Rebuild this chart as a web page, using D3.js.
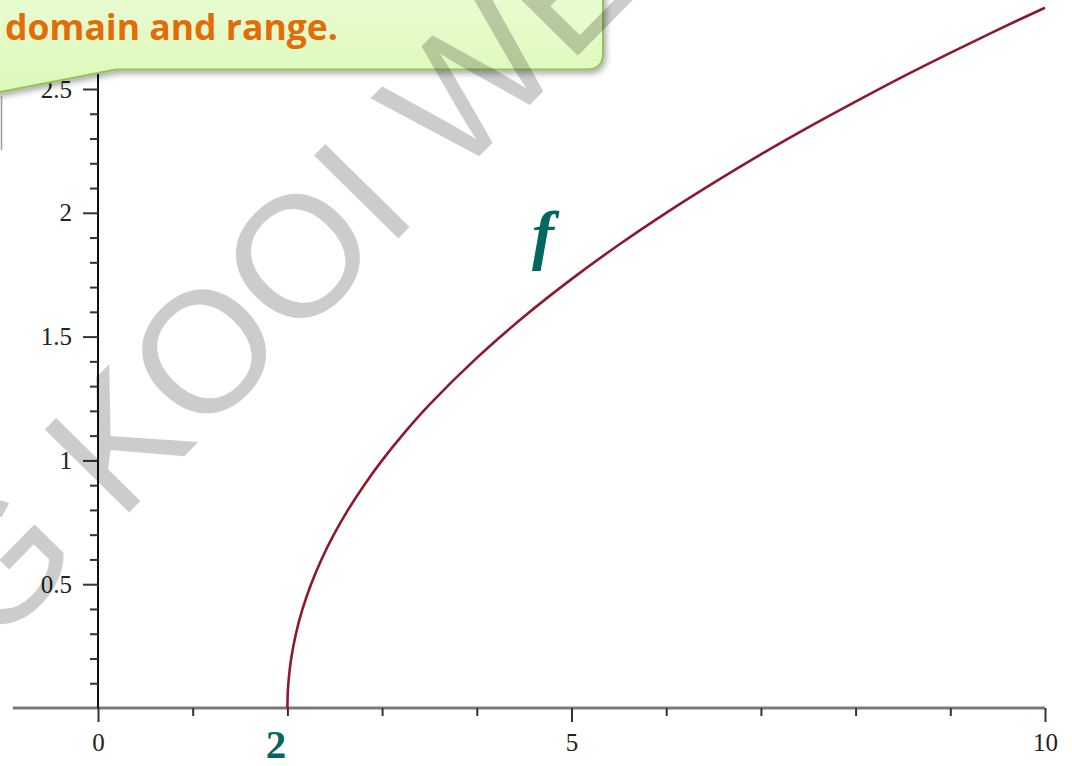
<!DOCTYPE html>
<html>
<head>
<meta charset="utf-8">
<script src="https://cdn.jsdelivr.net/npm/d3@7"></script>
<style>
  html, body { margin: 0; padding: 0; background: #fff; }
  svg { display: block; }
</style>
</head>
<body>
<svg id="chart" width="1072" height="766"></svg>
<script>
// f(x) = sqrt(x - 2), sampled points along the curve
const curveX = [2, 2.005, 2.02, 2.04, 2.09, 2.16, 2.25, 2.36, 2.49, 2.64, 2.81, 3, 3.25, 3.5, 4, 4.5, 5, 5.5, 6, 6.5, 7, 7.5, 8, 8.5, 9, 9.5, 10];
const curveY = [0, 0.07, 0.14, 0.2, 0.3, 0.4, 0.5, 0.6, 0.7, 0.8, 0.9, 1, 1.118, 1.225, 1.414, 1.581, 1.732, 1.871, 2, 2.121, 2.236, 2.345, 2.449, 2.55, 2.646, 2.739, 2.828];

// axis ticks
const xMajor = [0, 5, 10];
const xMinor = [1, 2, 3, 4, 6, 7, 8, 9];
const yMajor = [0.5, 1, 1.5, 2, 2.5];
const yMinor = [0.1, 0.2, 0.3, 0.4, 0.6, 0.7, 0.8, 0.9, 1.1, 1.2, 1.3, 1.4, 1.6, 1.7, 1.8, 1.9, 2.1, 2.2, 2.3, 2.4, 2.6, 2.7];

// annotations
const domainStartLabel = "2";
const functionLabel = "f";
const calloutText = "domain and range.";
const watermarkText = "G KOOI WE";

const svg = d3.select("#chart");

const x = d3.scaleLinear().domain([0, 10]).range([98, 1045]);
const y = d3.scaleLinear().domain([0, 2.5]).range([708, 89]);

const tickColor = "#333";
const labelFont = "'Liberation Serif', 'Times New Roman', serif";

// ---- x axis ----
svg.append("line")
  .attr("x1", x(-0.9)).attr("x2", x(10))
  .attr("y1", y(0)).attr("y2", y(0))
  .attr("stroke", "#7a7a7a").attr("stroke-width", 3);

const xMinorAxis = svg.append("g")
  .attr("transform", `translate(0,${y(0)})`)
  .call(d3.axisBottom(x).tickValues(xMinor).tickSize(8).tickFormat(""));
const xMajorAxis = svg.append("g")
  .attr("transform", `translate(0,${y(0)})`)
  .call(d3.axisBottom(x).tickValues(xMajor).tickSize(14).tickPadding(29).tickFormat(d3.format("d")));

[xMinorAxis, xMajorAxis].forEach(g => {
  g.select(".domain").remove();
  g.selectAll(".tick line").attr("stroke", tickColor).attr("stroke-width", 2);
});
xMajorAxis.selectAll(".tick text")
  .attr("dy", 0)
  .attr("fill", "#222")
  .style("font-family", labelFont)
  .style("font-size", "25px");

// ---- y axis ----
svg.append("line")
  .attr("x1", x(0)).attr("x2", x(0))
  .attr("y1", y(0)).attr("y2", 0)
  .attr("stroke", "#111").attr("stroke-width", 2);

const yMinorAxis = svg.append("g")
  .attr("transform", `translate(${x(0)},0)`)
  .call(d3.axisLeft(y).tickValues(yMinor).tickSize(8).tickFormat(""));
const yMajorAxis = svg.append("g")
  .attr("transform", `translate(${x(0)},0)`)
  .call(d3.axisLeft(y).tickValues(yMajor).tickSize(15).tickPadding(11).tickFormat(d => String(d)));

[yMinorAxis, yMajorAxis].forEach(g => {
  g.select(".domain").remove();
  g.selectAll(".tick line").attr("stroke", tickColor).attr("stroke-width", 2);
});
yMajorAxis.selectAll(".tick text")
  .attr("fill", "#222")
  .style("font-family", labelFont)
  .style("font-size", "25px");

// ---- curve ----
const pts = curveX.map((v, i) => [v, curveY[i]]);
svg.append("path")
  .datum(pts)
  .attr("fill", "none")
  .attr("stroke", "#8b1a2c")
  .attr("stroke-width", 2.6)
  .attr("d", d3.line().x(d => x(d[0])).y(d => y(d[1])).curve(d3.curveCatmullRom.alpha(0.5)));

// ---- labels ----
const teal = "#036660";
svg.append("text")
  .attr("x", x(1.88)).attr("y", 758)
  .attr("text-anchor", "middle")
  .attr("fill", teal)
  .style("font-family", "'Liberation Serif', 'DejaVu Serif', serif")
  .style("font-weight", "bold")
  .style("font-size", "41px")
  .text(domainStartLabel);

svg.append("text")
  .attr("x", x(4.7)).attr("y", 257)
  .attr("text-anchor", "middle")
  .attr("fill", teal)
  .style("font-family", "'Liberation Serif', 'DejaVu Serif', serif")
  .style("font-weight", "bold")
  .style("font-style", "italic")
  .style("font-size", "66px")
  .text(functionLabel);

// ---- callout box ----
const defs = svg.append("defs");
const grad = defs.append("linearGradient").attr("id", "calloutFill")
  .attr("x1", 0).attr("y1", 0).attr("x2", 0).attr("y2", 1);
grad.append("stop").attr("offset", "0%").attr("stop-color", "#e9fdd2");
grad.append("stop").attr("offset", "100%").attr("stop-color", "#ddf8b8");
const shadow = defs.append("filter").attr("id", "calloutShadow")
  .attr("x", "-10%").attr("y", "-10%").attr("width", "130%").attr("height", "160%");
shadow.append("feDropShadow").attr("dx", 2).attr("dy", 3).attr("stdDeviation", 3)
  .attr("flood-color", "#000").attr("flood-opacity", 0.35);

const r = 16;
const calloutPath = [
  "M", -10, -10,
  "L", 603, -10,
  "L", 603, 69.5 - r,
  "Q", 603, 69.5, 603 - r, 69.5,
  "L", 116, 69.5,
  "L", -10, 94,
  "Z"
].join(" ");
svg.append("path")
  .attr("d", calloutPath)
  .attr("fill", "url(#calloutFill)")
  .attr("stroke", "#95c05a")
  .attr("stroke-width", 2)
  .attr("filter", "url(#calloutShadow)");

svg.append("text")
  .attr("x", 5).attr("y", 40)
  .attr("fill", "#e36c0a")
  .attr("textLength", 333)
  .attr("lengthAdjust", "spacingAndGlyphs")
  .style("font-family", "'Open Sans', 'Noto Sans', sans-serif")
  .style("font-weight", "bold")
  .style("font-size", "35px")
  .text(calloutText);

// small frame edge at the left margin
svg.append("line")
  .attr("x1", 1.5).attr("x2", 1.5).attr("y1", 96).attr("y2", 150)
  .attr("stroke", "#9a9a9a").attr("stroke-width", 1.5);

// ---- watermark ----
svg.append("text")
  .attr("transform", "translate(-8,652) rotate(-45.5)")
  .attr("fill", "#000")
  .attr("fill-opacity", 0.2)
  .style("font-family", "'Liberation Sans', Arial, sans-serif")
  .style("font-size", "172px")
  .text(watermarkText);
</script>
</body>
</html>
